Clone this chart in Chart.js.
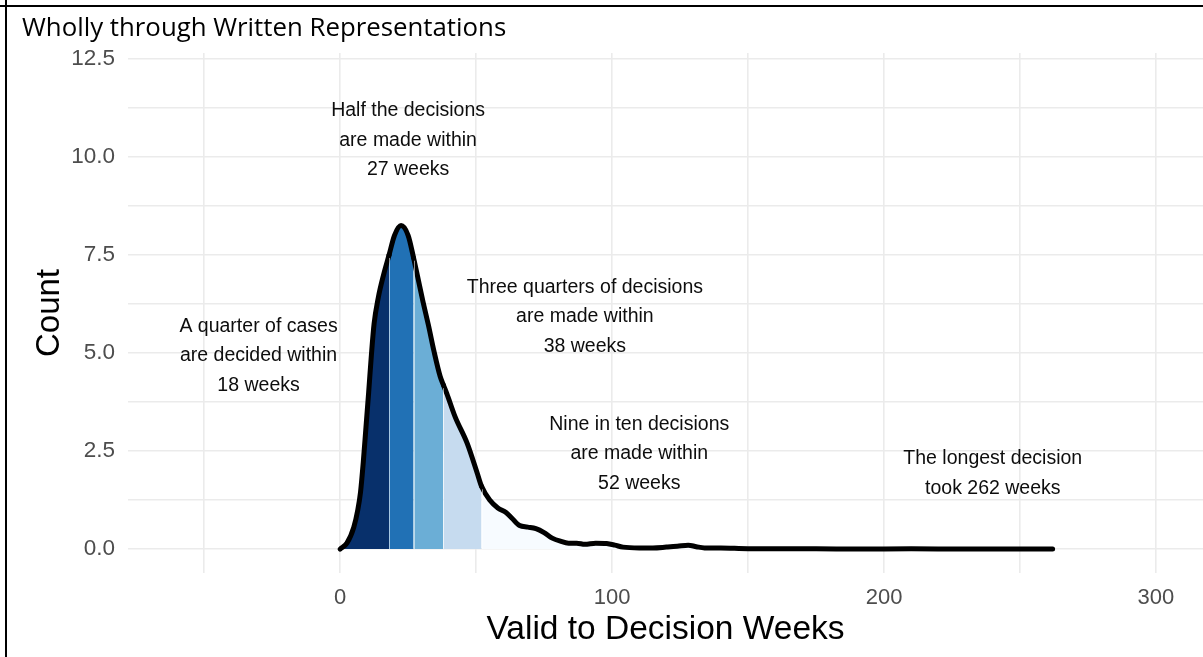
<!DOCTYPE html>
<html>
<head>
<meta charset="utf-8">
<title>Valid to Decision Weeks</title>
<script src="https://cdn.jsdelivr.net/npm/chart.js@4.4.1/dist/chart.umd.min.js"></script>
<style>
    html, body { margin: 0; padding: 0; background: #fff; }
    #wrap { position: relative; width: 1203px; height: 657px; overflow: hidden; }
    #frame-top { position: absolute; left: 0; top: 5px; width: 1203px; height: 2px; background: #000; }
    #frame-left { position: absolute; left: 5px; top: 0; width: 2px; height: 657px; background: #000; }
    #title {
        position: absolute; left: 22px; top: 14px;
        font-family: "Open Sans", sans-serif; font-size: 25.8px; color: #000;
        white-space: nowrap; line-height: 1;
    }
    canvas { position: absolute; left: 0; top: 0; }
</style>
</head>
<body>
<div id="wrap">
    <canvas id="densityChart" width="1203" height="657"></canvas>
    <div id="frame-top"></div>
    <div id="frame-left"></div>
    <div id="title">Wholly through Written Representations</div>
</div>
<script>
// Curve: weeks vs count
const weeks = [0, 2.5, 5, 6.5, 7.5, 8.5, 9.5, 10.5, 11.5, 12.5, 14, 16, 18, 20, 22.4, 25, 27, 28.5, 30.5, 32.5,
    34.5, 36.8, 38, 39.2, 42.3, 46.7, 50.4, 52, 55, 58, 61, 63, 66, 69, 72, 75, 78, 81, 84, 87, 90, 94, 98,
    101, 104, 110, 115, 120, 124, 128, 131, 134, 140, 150, 160, 175, 190, 210, 230, 250, 262];
const counts = [0, 0.15, 0.55, 1.0, 1.45, 2.2, 3.1, 4.0, 4.95, 5.75, 6.4, 7.0, 7.5, 8.0, 8.25, 8.0, 7.43, 6.95, 6.3, 5.7,
    5.05, 4.4, 4.18, 3.97, 3.37, 2.7, 1.94, 1.6, 1.25, 1.05, 0.93, 0.8, 0.6, 0.56, 0.52, 0.42, 0.28, 0.2, 0.15, 0.15, 0.12, 0.15, 0.14,
    0.1, 0.05, 0.03, 0.03, 0.05, 0.07, 0.1, 0.06, 0.03, 0.03, 0.01, 0.01, 0.01, 0.0, 0.01, 0.0, 0.0, 0.0];

// Quantile bands (upper edge of each band) and their fills
const bandEdges = [18, 27, 38, 52, 262];
const bandColors = ['#08306b', '#2171b5', '#6baed6', '#c6dbef', '#f7fbff'];

// Tick labels
const xTickLabels = [0, 100, 200, 300];
const yTickLabels = [0, 2.5, 5, 7.5, 10, 12.5];

// Annotations
const noteX = [-30, 25, 90, 110, 240];
const noteY = [5, 10.5, 6, 2.5, 2];
const noteText = [
    ['A quarter of cases', 'are decided within', '18 weeks'],
    ['Half the decisions', 'are made within', '27 weeks'],
    ['Three quarters of decisions', 'are made within', '38 weeks'],
    ['Nine in ten decisions', 'are made within', '52 weeks'],
    ['The longest decision', 'took 262 weeks']
];

const fontFamily = '"Liberation Sans", Arial, sans-serif';

function bandColor(x) {
    for (let i = 0; i < bandEdges.length; i++) {
        if (x < bandEdges[i]) return bandColors[i];
    }
    return bandColors[bandColors.length - 1];
}

// thin white lines between the bands, like the reference
const bandSeparators = {
    id: 'bandSeparators',
    afterDatasetsDraw(chart) {
        const ctx = chart.ctx;
        const xs = chart.scales.x, ys = chart.scales.y;
        ctx.save();
        ctx.strokeStyle = 'rgba(255,255,255,0.55)';
        ctx.lineWidth = 1;
        bandEdges.slice(0, 4).forEach(edge => {
            const i = weeks.indexOf(edge);
            if (i < 0) return;
            const px = Math.round(xs.getPixelForValue(edge)) + 0.5;
            ctx.beginPath();
            ctx.moveTo(px, ys.getPixelForValue(0));
            ctx.lineTo(px, ys.getPixelForValue(counts[i]) + 3);
            ctx.stroke();
        });
        ctx.restore();
    }
};

const notes = {
    id: 'notes',
    afterDraw(chart) {
        const ctx = chart.ctx;
        const xs = chart.scales.x, ys = chart.scales.y;
        const lineGap = 29.5;
        ctx.save();
        ctx.font = '19.5px ' + fontFamily;
        ctx.fillStyle = '#0d0d0d';
        ctx.textAlign = 'center';
        ctx.textBaseline = 'middle';
        noteText.forEach((lines, i) => {
            const cx = xs.getPixelForValue(noteX[i]);
            const cy = ys.getPixelForValue(noteY[i]) + 3;
            const start = cy - (lines.length - 1) * lineGap / 2;
            lines.forEach((t, j) => ctx.fillText(t, cx, start + j * lineGap));
        });
        ctx.restore();
    }
};

const ctx = document.getElementById('densityChart').getContext('2d');
new Chart(ctx, {
    type: 'line',
    data: {
        datasets: [{
            data: weeks.map((w, i) => ({ x: w, y: counts[i] })),
            borderColor: '#000',
            borderWidth: 5,
            borderCapStyle: 'round',
            borderJoinStyle: 'round',
            pointRadius: 0,
            cubicInterpolationMode: 'monotone',
            fill: 'origin',
            backgroundColor: bandColors[0],
            segment: {
                backgroundColor: c => bandColor(c.p0.parsed.x)
            }
        }]
    },
    options: {
        responsive: false,
        animation: false,
        layout: { padding: { top: 53, right: 0, bottom: 0, left: 0 } },
        plugins: { legend: { display: false }, tooltip: { enabled: false } },
        scales: {
            x: {
                type: 'linear',
                min: -78,
                max: 317.3,
                afterFit: s => { s.height = 84; },
                border: { display: false },
                grid: { color: '#ebebeb', lineWidth: 1.6, drawTicks: false },
                ticks: {
                    stepSize: 50,
                    includeBounds: false,
                    padding: 12,
                    color: '#4d4d4d',
                    font: { family: fontFamily, size: 22 },
                    maxRotation: 0,
                    autoSkip: false,
                    callback: v => xTickLabels.includes(v) ? String(v) : ''
                },
                title: {
                    display: true,
                    text: 'Valid to Decision Weeks',
                    color: '#000',
                    font: { family: fontFamily, size: 33.5 },
                    padding: { top: 0, bottom: 7 }
                }
            },
            y: {
                min: -0.61,
                max: 12.65,
                afterFit: s => { s.width = 128; },
                border: { display: false },
                grid: { color: '#ebebeb', lineWidth: 1.6, drawTicks: false },
                ticks: {
                    stepSize: 1.25,
                    includeBounds: false,
                    padding: 13,
                    color: '#4d4d4d',
                    font: { family: fontFamily, size: 22.5 },
                    autoSkip: false,
                    callback: v => yTickLabels.includes(v) ? v.toFixed(1) : ''
                },
                title: {
                    display: true,
                    text: 'Count',
                    color: '#000',
                    font: { family: fontFamily, size: 33 },
                    padding: { top: 30, bottom: 0 }
                }
            }
        }
    },
    plugins: [bandSeparators, notes]
});
</script>
</body>
</html>
